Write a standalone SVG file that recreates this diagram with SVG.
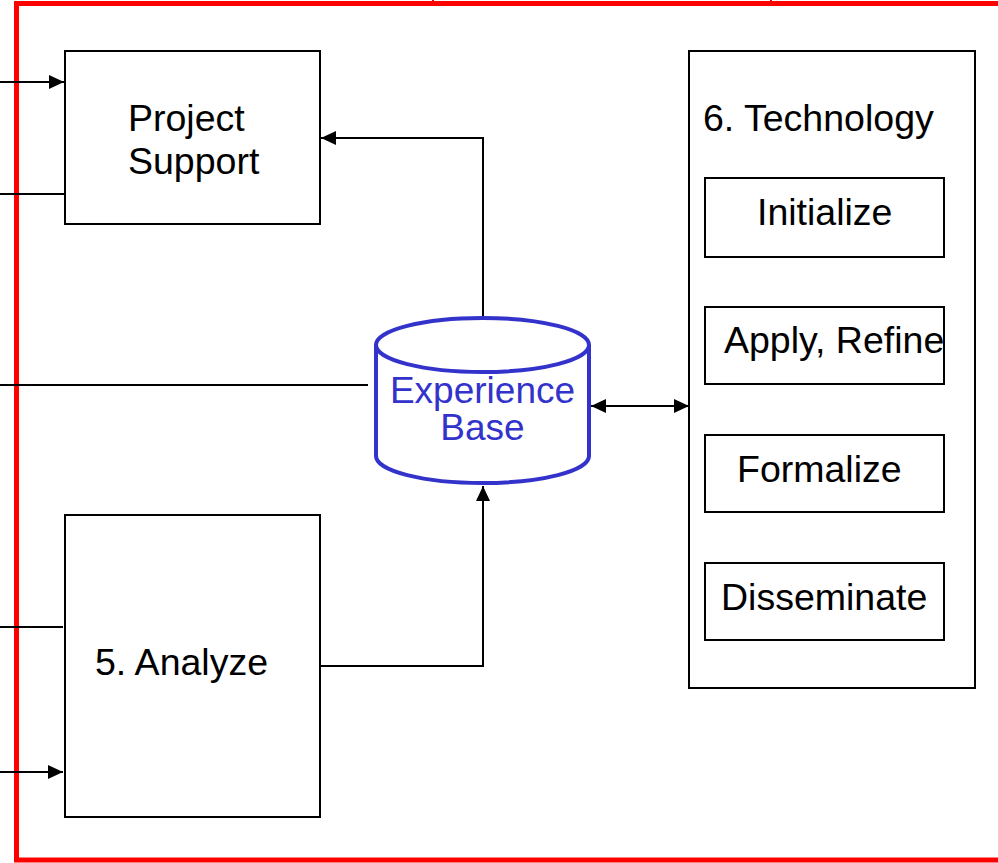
<svg xmlns="http://www.w3.org/2000/svg" width="998" height="863" viewBox="0 0 998 863">
<defs>
<marker id="ah" markerWidth="16" markerHeight="14" refX="15" refY="7" orient="auto-start-reverse" markerUnits="userSpaceOnUse">
<path d="M0,0 L15,7 L0,14 Z" fill="#000"/>
</marker>
</defs>
<style>
.box{fill:#fff;stroke:#000;stroke-width:2}
.t{font-family:"Liberation Sans",Arial,sans-serif;font-size:37.5px;fill:#000}
.b{font-family:"Liberation Sans",Arial,sans-serif;font-size:37px;fill:#3333cc}
.c{fill:none;stroke:#000;stroke-width:2}
</style>
<rect width="998" height="863" fill="#fff"/>
<g id="frame">
<rect x="16.5" y="3.5" width="1000" height="856.5" fill="none" stroke="#ff0000" stroke-width="5"/>
<line x1="433" y1="0" x2="433" y2="3" stroke="#ff0000" stroke-width="2"/>
<line x1="771" y1="0" x2="771" y2="3" stroke="#ff0000" stroke-width="2"/>
</g>
<g id="connectors">
<line class="c" x1="0" y1="82" x2="64" y2="82" marker-end="url(#ah)"/>
<line class="c" x1="0" y1="194" x2="64" y2="194"/>
<polyline class="c" points="483,319 483,138 321,138" marker-end="url(#ah)"/>
<line class="c" x1="0" y1="385" x2="368" y2="385"/>
<line class="c" x1="591" y1="406" x2="689" y2="406" marker-start="url(#ah)" marker-end="url(#ah)"/>
<polyline class="c" points="321,666 483,666 483,486" marker-end="url(#ah)"/>
<line class="c" x1="0" y1="627" x2="63" y2="627"/>
<line class="c" x1="0" y1="772" x2="63" y2="772" marker-end="url(#ah)"/>
</g>
<g id="project-support">
<rect class="box" x="65" y="51" width="255" height="173"/>
<text class="t" x="128" y="131">Project</text>
<text class="t" x="128" y="174">Support</text>
</g>
<g id="experience-base">
<path d="M376,345 L376,456 A106.5,27 0 0 0 589,456 L589,345" fill="#fff" stroke="#3333cc" stroke-width="4"/>
<ellipse cx="482.5" cy="345" rx="106.5" ry="27" fill="#fff" stroke="#3333cc" stroke-width="4"/>
<text class="b" x="482.5" y="403" text-anchor="middle">Experience</text>
<text class="b" x="482.5" y="440" text-anchor="middle">Base</text>
</g>
<g id="analyze">
<rect class="box" x="65" y="515" width="255" height="302"/>
<text class="t" x="95" y="675">5. Analyze</text>
</g>
<g id="technology">
<rect class="box" x="689" y="51" width="286" height="637"/>
<text class="t" x="703" y="131">6. Technology</text>
</g>
<g id="initialize">
<rect class="box" x="705" y="178" width="239" height="79"/>
<text class="t" x="757" y="225">Initialize</text>
</g>
<g id="apply-refine">
<rect class="box" x="705" y="307" width="239" height="77"/>
<text class="t" x="724" y="353">Apply, Refine</text>
</g>
<g id="formalize">
<rect class="box" x="705" y="435" width="239" height="77"/>
<text class="t" x="737" y="482">Formalize</text>
</g>
<g id="disseminate">
<rect class="box" x="705" y="563" width="239" height="77"/>
<text class="t" x="721" y="610">Disseminate</text>
</g>
</svg>
